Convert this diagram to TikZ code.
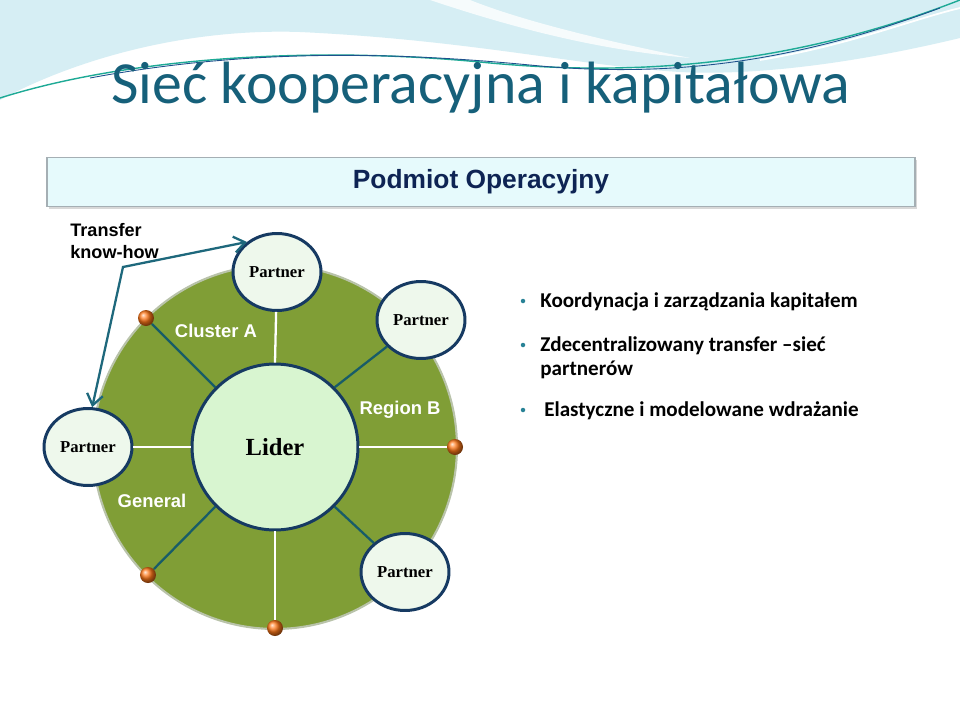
\documentclass[tikz,border=0pt]{standalone}
\usepackage{fontspec}
\setmainfont{Carlito}
\newfontfamily\arialfont{Liberation Sans}
\newfontfamily\seriffont{Liberation Serif}
\usetikzlibrary{positioning,shapes.geometric,arrows.meta,shadows}

\definecolor{titleblue}{RGB}{22,96,122}
\definecolor{skycyan}{RGB}{214,238,244}
\definecolor{wavegreen}{RGB}{30,170,150}
\definecolor{waveblue}{RGB}{30,80,140}
\definecolor{headfill}{RGB}{230,250,252}
\definecolor{headline}{RGB}{165,175,180}
\definecolor{headtext}{RGB}{14,36,84}
\definecolor{discgreen}{RGB}{128,158,54}
\definecolor{discrim}{RGB}{185,195,170}
\definecolor{liderfill}{RGB}{216,245,208}
\definecolor{partnerfill}{RGB}{238,248,236}
\definecolor{rimblue}{RGB}{22,58,98}
\definecolor{spoketeal}{RGB}{24,92,104}
\definecolor{arrowteal}{RGB}{30,104,124}
\definecolor{dotorange}{RGB}{255,120,25}
\definecolor{bulletteal}{RGB}{40,130,150}

\tikzset{
  disc/.style={circle, fill=discgreen, draw=discrim, line width=1.2pt,
    minimum size=7.28cm, inner sep=0pt},
  lider/.style={circle, fill=liderfill, draw=rimblue, line width=1.7pt,
    minimum size=3.32cm, inner sep=0pt,
    font=\seriffont\bfseries\fontsize{14}{16}\selectfont},
  partner/.style={ellipse, fill=partnerfill, draw=rimblue, line width=1.7pt,
    minimum width=1.76cm, minimum height=1.54cm, inner sep=0pt,
    font=\seriffont\bfseries\fontsize{9.5}{11}\selectfont},
  orangedot/.style={circle, ball color=dotorange, minimum size=0.32cm, inner sep=0pt},
  whitespoke/.style={white, line width=1.3pt},
  tealspoke/.style={spoketeal, line width=1.3pt},
  sector/.style={text=white, inner sep=0pt,
    font=\arialfont\bfseries\fontsize{10.5}{12.5}\selectfont},
  headbar/.style={rectangle, fill=headfill, draw=headline, line width=1pt,
    minimum width=17.36cm, minimum height=0.98cm, text=headtext,
    drop shadow={opacity=0.3, shadow xshift=1.2pt, shadow yshift=-1.2pt},
    font=\arialfont\bfseries\fontsize{15}{17}\selectfont},
  knowtext/.style={align=left, inner sep=0pt,
    font=\arialfont\bfseries\fontsize{10.3}{12.5}\selectfont},
  knowarrow/.style={arrowteal, line width=1.3pt,
    {Straight Barb[length=2.2mm,width=3.2mm]}-{Straight Barb[length=2.2mm,width=3.2mm]}},
  bulletdot/.style={circle, fill=bulletteal, minimum size=0.09cm, inner sep=0pt},
  bullettext/.style={inner sep=0pt, font=\bfseries\fontsize{12}{14}\selectfont},
}

\begin{document}
\begin{tikzpicture}[x=0.02cm, y=-0.02cm]
\useasboundingbox (0,0) rectangle (960,720);
\fill[white] (0,0) rectangle (960,720);

% background waves
\fill[skycyan] (0,0) -- (960,0) -- (960,38)
  .. controls (860,62) and (760,76) .. (680,72)
  .. controls (580,66) and (470,40) .. (300,32)
  .. controls (180,28) and (70,62) .. (0,100) -- cycle;
\fill[white, opacity=0.8] (430,0) .. controls (520,30) and (600,50) .. (690,58)
  .. controls (600,40) and (520,20) .. (470,0) -- cycle;
\draw[wavegreen, line width=0.8pt] (0,98) .. controls (120,60) and (300,45) .. (480,62)
  .. controls (620,76) and (780,70) .. (960,0);
\draw[waveblue, line width=0.5pt] (90,78) .. controls (250,48) and (400,52) .. (540,66)
  .. controls (680,78) and (800,60) .. (940,8);
\draw[white, line width=1pt] (760,60) .. controls (850,45) and (910,20) .. (960,8);

% title and header
\node[anchor=base west, inner sep=0pt, text=titleblue,
  font=\fontsize{34}{38}\selectfont] (title) at (111,103) {Sieć kooperacyjna i kapitałowa};
\node[headbar] (podmiot) at (481,182) {Podmiot Operacyjny};

% network
\node[disc] (disc) at (275,447) {};
\node[lider] (lider) at (275,447) {Lider};
\node[partner] (ptop) at (277,272) {Partner};
\node[partner] (pne) at (421,320) {Partner};
\node[partner] (pleft) at (88,447) {Partner};
\node[partner] (pse) at (405,572) {Partner};
\node[orangedot] (dnw) at (146,318) {};
\node[orangedot] (deast) at (455,447) {};
\node[orangedot] (dsw) at (148,575) {};
\node[orangedot] (dsouth) at (275,628) {};

\draw[whitespoke] (lider.90) -- (ptop);
\draw[whitespoke] (lider.180) -- (pleft);
\draw[whitespoke] (lider.0) -- (deast);
\draw[whitespoke] (lider.270) -- (dsouth);
\draw[tealspoke] (lider.45) -- (pne);
\draw[tealspoke] (lider.135) -- (dnw);
\draw[tealspoke] (lider.225) -- (dsw);
\draw[tealspoke] (lider.315) -- (pse);

\node[sector] (cluster) at (216,331) {Cluster A};
\node[sector] (region) at (400,410) {Region B};
\node[sector] (general) at (152,501) {General};

% transfer know-how
\node[knowtext, anchor=north west] (know) at (70,223) {Transfer\\know-how};
\coordinate (bend) at (123,267);
\draw[knowarrow] (pleft.84) -- (bend) -- (ptop.135);

% bullet list
\node[bulletdot] (dot1) at (523,301) {};
\node[bulletdot] (dot2) at (523,345) {};
\node[bulletdot] (dot3) at (523,410) {};
\node[bullettext, anchor=base west] (item1) at (540,307) {Koordynacja i zarządzania kapitałem};
\node[bullettext, anchor=base west] (item2) at (540,351) {Zdecentralizowany transfer –sieć};
\node[bullettext, anchor=base west] (item2b) at (540,375) {partnerów};
\node[bullettext, anchor=base west] (item3) at (544,416) {Elastyczne i modelowane wdrażanie};
\end{tikzpicture}
\end{document}
